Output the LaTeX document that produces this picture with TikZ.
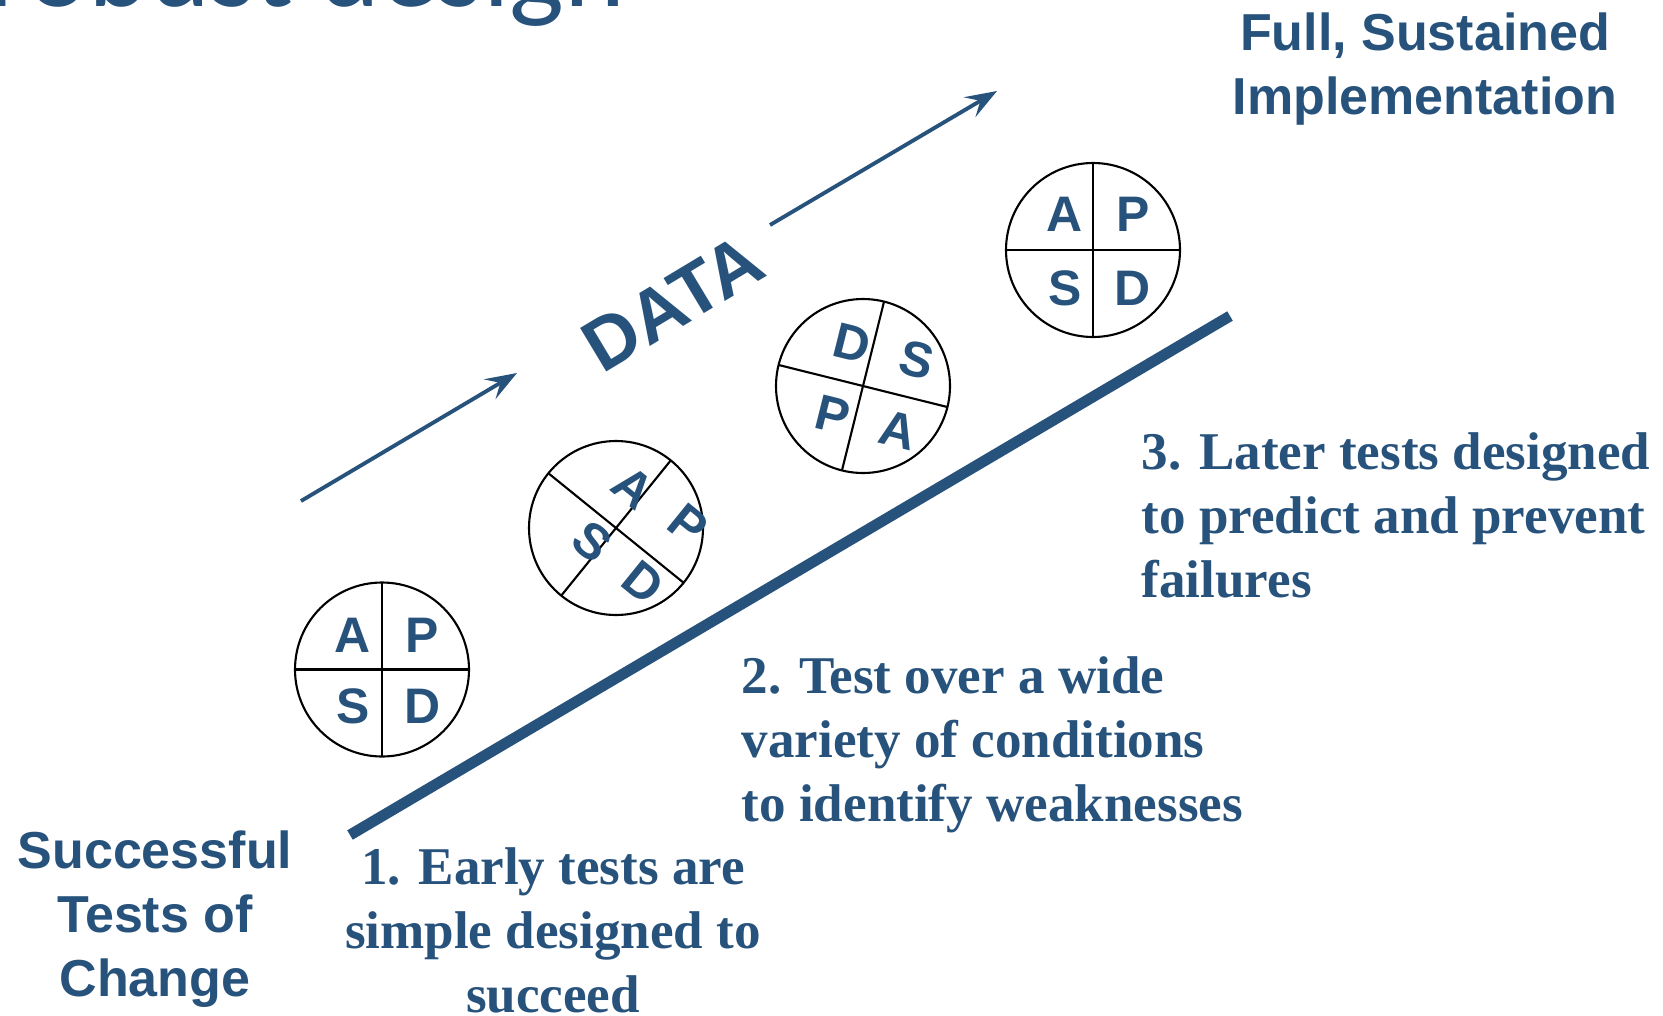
\documentclass[tikz,border=0pt]{standalone}
\usepackage{fontspec}
\setmainfont{Liberation Serif}
\setsansfont{Liberation Sans}
\newfontfamily\titolofont{Carlito}
\usetikzlibrary{arrows.meta}
\definecolor{bluscuro}{RGB}{39,82,123}

\begin{document}
\begin{tikzpicture}[
    cerchio/.style={draw=black,line width=0.6pt},
    lettera/.style={font=\sffamily\bfseries\fontsize{14.2}{14.2}\selectfont,text=bluscuro,inner sep=0pt},
    fase/.style={font=\rmfamily\bfseries\fontsize{15.1}{18.2}\selectfont,text=bluscuro,inner sep=0pt},
    estremo/.style={font=\sffamily\bfseries\fontsize{14.8}{18.2}\selectfont,text=bluscuro,inner sep=0pt,align=center},
    freccia/.style={draw=bluscuro,line width=1.1pt,-{Stealth[length=9pt,width=6.5pt,inset=3.5pt]}}]

  \useasboundingbox (0,0) rectangle (16.63,10.15);
  \clip (0,0) rectangle (16.63,10.15);

  % ---- titolo della slide, tagliato in alto --------------------------------
  \node[font=\titolofont\fontsize{33}{33}\selectfont,text=bluscuro,anchor=base west,inner sep=0pt]
    (titolo) at (-0.12,10.09) {robust design};

  % ---- rampa e frecce dei dati ----------------------------------------------
  \draw[bluscuro,line width=3.1pt] (3.50,1.80) -- (12.30,6.99);
  \draw[freccia] (3.01,5.14) -- (5.17,6.42);
  \draw[freccia] (7.70,7.90) -- (9.97,9.24);
  \node[font=\sffamily\bfseries\fontsize{21}{21}\selectfont,text=bluscuro,rotate=31,inner sep=0pt]
    (dati) at (6.73,7.12) {DATA};

  % ---- ciclo 1: diritto ------------------------------------------------------
  \begin{scope}[shift={(3.82,3.455)}]
    \draw[cerchio] (0,0) circle[radius=0.87];
    \draw[cerchio] (-0.87,0) -- (0.87,0) (0,-0.87) -- (0,0.87);
    \node[lettera] (a1) at (-0.29, 0.34) {A};
    \node[lettera] (p1) at ( 0.40, 0.34) {P};
    \node[lettera] (s1) at (-0.29,-0.37) {S};
    \node[lettera] (d1) at ( 0.41,-0.37) {D};
  \end{scope}

  % ---- ciclo 2: girato di quasi 40 gradi ------------------------------------
  \begin{scope}[shift={(6.16,4.87)}]
    \draw[cerchio] (0,0) circle[radius=0.87];
    \draw[cerchio,rotate=-39] (-0.87,0) -- (0.87,0) (0,-0.87) -- (0,0.87);
    \node[lettera,rotate=-39] (a2) at ( 0.17, 0.41) {A};
    \node[lettera,rotate=-39] (p2) at ( 0.72, 0.03) {P};
    \node[lettera,rotate=-39] (s2) at (-0.24,-0.14) {S};
    \node[lettera,rotate=-39] (d2) at ( 0.27,-0.54) {D};
  \end{scope}

  % ---- ciclo 3: capovolto ----------------------------------------------------
  \begin{scope}[shift={(8.63,6.29)}]
    \draw[cerchio] (0,0) circle[radius=0.87];
    \draw[cerchio,rotate=-14] (-0.87,0) -- (0.87,0) (0,-0.87) -- (0,0.87);
    \node[lettera,rotate=-14] (d3) at (-0.11, 0.43) {D};
    \node[lettera,rotate=-14] (s3) at ( 0.54, 0.26) {S};
    \node[lettera,rotate=-14] (p3) at (-0.30,-0.29) {P};
    \node[lettera,rotate=-14] (a3) at ( 0.35,-0.44) {A};
  \end{scope}

  % ---- ciclo 4: di nuovo diritto ---------------------------------------------
  \begin{scope}[shift={(10.93,7.65)}]
    \draw[cerchio] (0,0) circle[radius=0.87];
    \draw[cerchio] (-0.87,0) -- (0.87,0) (0,-0.87) -- (0,0.87);
    \node[lettera] (a4) at (-0.28, 0.36) {A};
    \node[lettera] (p4) at ( 0.40, 0.36) {P};
    \node[lettera] (s4) at (-0.28,-0.38) {S};
    \node[lettera] (d4) at ( 0.40,-0.38) {D};
  \end{scope}

  % ---- estremi della scala ---------------------------------------------------
  \node[estremo,anchor=north] (attuazione) at (14.25,10.03)
    {Full, Sustained\\Implementation};
  \node[estremo,anchor=north] (successo) at (1.55,1.85)
    {Successful\\Tests of\\Change};

  % ---- le tre fasi -----------------------------------------------------------
  \node[fase,anchor=north,align=center] (fase1) at (5.53,1.68)
    {1. Early tests are\\simple designed to\\succeed};
  \node[fase,anchor=north west,align=left] (fase2) at (7.41,3.59)
    {2. Test over a wide\\variety of conditions\\to identify weaknesses};
  \node[fase,anchor=north west,align=left] (fase3) at (11.41,5.83)
    {3. Later tests designed\\to predict and prevent\\failures};

\end{tikzpicture}
\end{document}
